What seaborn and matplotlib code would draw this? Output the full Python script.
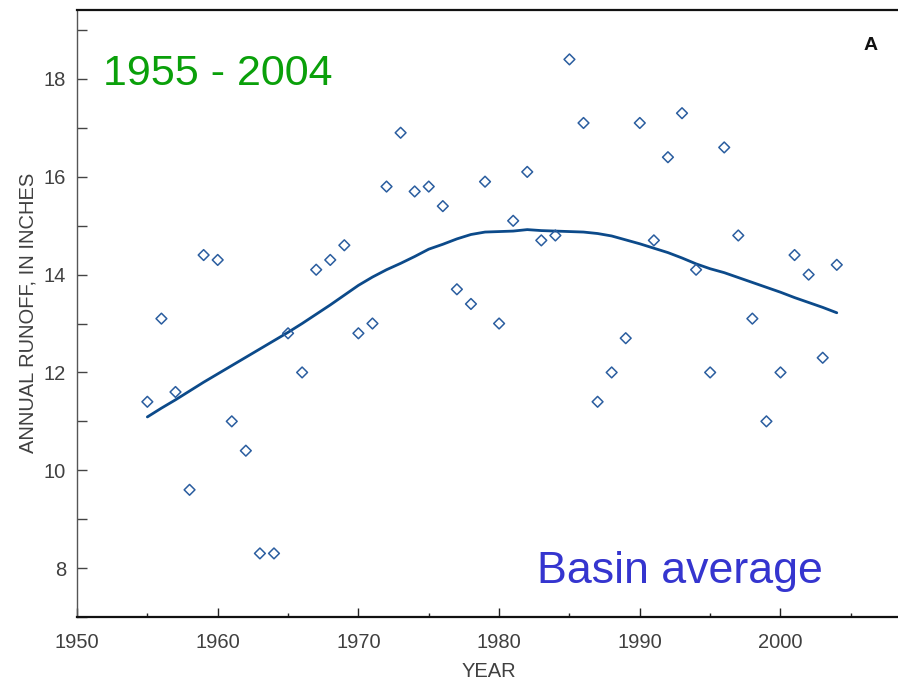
import numpy as np
import pandas as pd
import matplotlib
matplotlib.use("Agg")
import matplotlib.pyplot as plt
import seaborn as sns
from matplotlib.ticker import FixedLocator, NullFormatter

# ---- data ----
years = list(range(1955, 2005))
runoff = [11.4, 13.1, 11.6, 9.6, 14.4, 14.3, 11.0, 10.4, 8.3, 8.3,
          12.8, 12.0, 14.1, 14.3, 14.6, 12.8, 13.0, 15.8, 16.9, 15.7,
          15.8, 15.4, 13.7, 13.4, 15.9, 13.0, 15.1, 16.1, 14.7, 14.8,
          18.4, 17.1, 11.4, 12.0, 12.7, 17.1, 14.7, 16.4, 17.3, 14.1,
          12.0, 16.6, 14.8, 13.1, 11.0, 12.0, 14.4, 14.0, 12.3, 14.2]
smooth = [11.09, 11.27, 11.44, 11.62, 11.80, 11.97, 12.14, 12.31, 12.48, 12.65,
          12.82, 13.00, 13.19, 13.38, 13.58, 13.78, 13.95, 14.10, 14.23, 14.37,
          14.52, 14.62, 14.73, 14.82, 14.87, 14.88, 14.89, 14.92, 14.90, 14.89,
          14.88, 14.87, 14.84, 14.79, 14.71, 14.63, 14.54, 14.45, 14.34, 14.22,
          14.12, 14.04, 13.94, 13.84, 13.74, 13.64, 13.53, 13.43, 13.33, 13.22]
x_major = [1950, 1960, 1970, 1980, 1990, 2000]
x_minor = [1955, 1965, 1975, 1985, 1995, 2005]
y_major = [8, 10, 12, 14, 16, 18]
y_minor = [7, 9, 11, 13, 15, 17, 19]
period_label = "1955 - 2004"
region_label = "Basin average"
panel_label = "A"

df = pd.DataFrame({"year": years, "runoff": runoff, "smooth": smooth})

sns.set_style("white")
plt.rcParams["font.family"] = ["Liberation Sans", "DejaVu Sans"]

fig = plt.figure(figsize=(8.98, 6.82), dpi=100)
ax = fig.add_axes([77 / 898, 1 - 617 / 682, 1 - 77 / 898, (617 - 9.5) / 682])

pt_color = "#2A5D9F"
line_color = "#0C4A8A"

sns.scatterplot(data=df, x="year", y="runoff", marker="D", s=30, ax=ax,
                color=pt_color, zorder=3)
coll = ax.collections[0]
coll.set_facecolor("none")
coll.set_edgecolor(pt_color)
coll.set_linewidth(1.1)

sns.lineplot(data=df, x="year", y="smooth", ax=ax, color=line_color,
             linewidth=2.0, zorder=2)

ax.set_xlim(1950, 1950 + (898 - 77) / 14.07)
ax.set_ylim(7, 19.42)

ax.xaxis.set_major_locator(FixedLocator(x_major))
ax.xaxis.set_minor_locator(FixedLocator(x_minor))
ax.yaxis.set_major_locator(FixedLocator(y_major))
ax.yaxis.set_minor_locator(FixedLocator(y_minor))
ax.xaxis.set_minor_formatter(NullFormatter())
ax.yaxis.set_minor_formatter(NullFormatter())

lab_color = "#404040"
ax.tick_params(axis="x", which="major", direction="in", length=6.5, width=1.0,
               pad=11.5, labelsize=14.5, labelcolor=lab_color, color="#222222",
               bottom=True, top=False)
ax.tick_params(axis="x", which="minor", direction="in", length=3.2, width=1.0,
               color="#222222", bottom=True, top=False)
ax.tick_params(axis="y", which="both", direction="in", length=7, width=1.0,
               pad=8, labelsize=14.5, labelcolor=lab_color, color="#444444",
               left=True, right=False)

ax.set_xlabel("YEAR", fontsize=14.5, color=lab_color)
ax.set_ylabel("ANNUAL RUNOFF, IN INCHES", fontsize=14.5, color=lab_color)
ax.xaxis.set_label_coords(0.502, -0.074)
ax.yaxis.set_label_coords(-0.0487, 0.5)

for side in ["top", "bottom"]:
    ax.spines[side].set_visible(True)
    ax.spines[side].set_color("#111111")
    ax.spines[side].set_linewidth(1.6)
ax.spines["left"].set_color("#555555")
ax.spines["left"].set_linewidth(1.0)
ax.spines["right"].set_visible(False)

ax.text(0.0315, 0.8757, period_label, transform=ax.transAxes, fontsize=31,
        color="#0AA00A", ha="left", va="baseline")
ax.text(0.5597, 0.0555, region_label, transform=ax.transAxes, fontsize=32.2,
        color="#3535CF", ha="left", va="baseline")
ax.text(0.9585, 0.9333, panel_label, transform=ax.transAxes, fontsize=14,
        fontweight="bold", color="#111111", ha="left", va="baseline")

fig.savefig("out.png", dpi=100)
